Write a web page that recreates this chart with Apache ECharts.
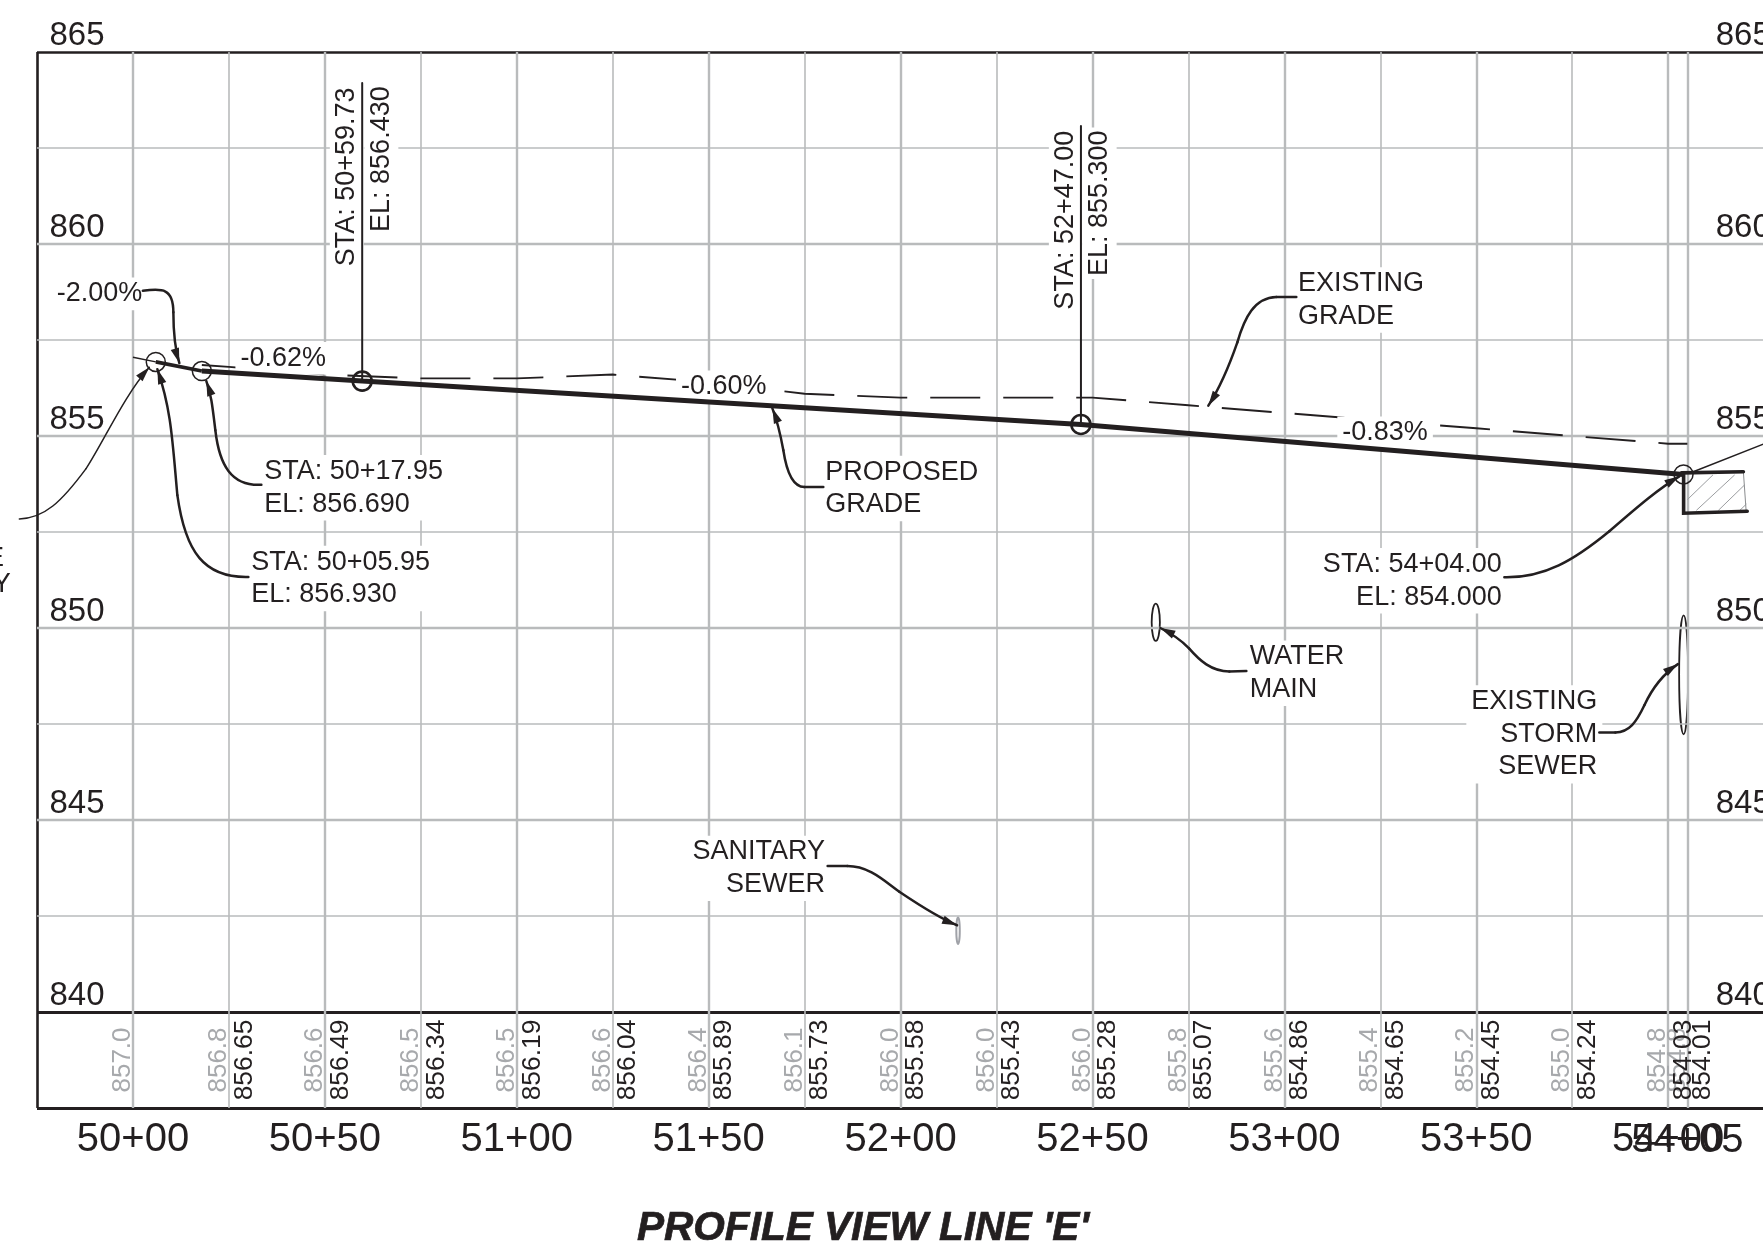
<!DOCTYPE html>
<html>
<head>
<meta charset="utf-8">
<style>html,body{margin:0;padding:0;background:#fff;overflow:hidden}#c{width:1763px;height:1245px}</style>
<script src="https://cdn.jsdelivr.net/npm/echarts@6/dist/echarts.min.js"></script>
</head>
<body>
<div id="c"></div>
<script>
// ---- data ----
const stationTicks = [5000,5050,5100,5150,5200,5250,5300,5350,5400];
const endStationTick = [5405];
const majorStations = [5000,5050,5100,5150,5200,5250,5300,5350,5400,5405];
const minorStations = [5025,5075,5125,5175,5225,5275,5325,5375,5425];
const majorElevations = [845,850,855,860];
const minorElevations = [842.5,847.5,852.5,857.5,862.5];
const borderElevations = [865,840,837.5];

const existingStations = [5000,5025,5050,5075,5100,5125,5150,5175,5200,5225,5250,5275,5300,5325,5350,5375,5400,5405];
const existingElevations = [857.0,856.8,856.6,856.5,856.5,856.6,856.4,856.1,856.0,856.0,856.0,855.8,855.6,855.4,855.2,855.0,854.8,854.8];
const existingStart = [5017.95,856.85];

const proposedRowStations = [5025,5050,5075,5100,5125,5150,5175,5200,5225,5250,5275,5300,5325,5350,5375,5400,5405];
const proposedRowElevations = ['856.65','856.49','856.34','856.19','856.04','855.89','855.73','855.58','855.43','855.28','855.07','854.86','854.65','854.45','854.24','854.03','854.01'];

const gradeStations = [5005.95,5017.95,5059.73,5247,5404];
const gradeElevations = [856.93,856.69,856.43,855.30,854.00];
const tieIn = [[5000,857.05],[5005.95,856.93]];

// labelled annotations: text, station, elevation
const notesLeft = [
  ['-2.00%',4980.15,858.74],
  ['STA: 50+17.95\nEL: 856.690',5034.18,853.69],
  ['STA: 50+05.95\nEL: 856.930',5030.8,851.33],
  ['-0.62%',5028,857.06],
  ['-0.60%',5142.8,856.32],
  ['-0.83%',5315.1,855.12],
  ['EXISTING\nGRADE',5303.56,858.58],
  ['PROPOSED\nGRADE',5180.4,853.67],
  ['WATER\nMAIN',5290.98,848.86]
];
const notesRight = [
  ['STA: 54+04.00\nEL: 854.000',5356.25,851.27],
  ['EXISTING\nSTORM\nSEWER',5381.16,847.27],
  ['SANITARY\nSEWER',5179.9,843.78],
  ['E',4966,851.85],
  ['Y',4967.8,851.17]
];
const notesVertical = [
  ['STA: 50+59.73',5055.2,861.75],
  ['EL: 856.430',5064.2,862.21],
  ['STA: 52+47.00',5242.55,860.62],
  ['EL: 855.300',5251.35,861.06]
];

// leader curves: start point then (control, control, end) triples, in station / elevation
const leaderMinusTwo = [[5002.58,858.78],[5007.66,858.85],[5010.53,858.85],[5010.53,858.22],[5010.53,857.62],[5011.05,857.23],[5012.09,856.90]];
const leaderSta1795 = [[5033.46,853.73],[5025.64,853.69],[5022.51,854.24],[5021.47,855.15],[5020.69,855.80],[5020.43,856.06],[5019.12,856.43]];
const leaderSta0595 = [[5030.07,851.33],[5018.60,851.30],[5013.65,851.97],[5011.57,853.46],[5010.27,854.89],[5010.01,855.67],[5006.36,856.74]];
const leaderLeftNote = [[4970.40,852.84],[4976.92,852.86],[4981.34,853.28],[4987.78,854.15],[4992.57,854.89],[4997.76,856.06],[5004.27,856.79]];
const leaderProposed = [[5179.88,853.67],[5179.88,853.67],[5174.93,853.67],[5174.93,853.67],[5171.80,853.68],[5170.24,854.11],[5169.46,854.63],[5168.42,855.20],[5167.64,855.46],[5166.60,855.72]];
const leaderExisting = [[5303.12,858.62],[5303.12,858.62],[5297.91,858.62],[5297.91,858.62],[5292.18,858.61],[5289.57,858.07],[5287.75,857.44],[5285.67,856.84],[5283.58,856.32],[5280.19,855.79]];
const leaderSta5404 = [[5357.32,851.32],[5367.74,851.30],[5375.56,851.77],[5384.67,852.52],[5392.49,853.20],[5397.70,853.64],[5402.91,853.95]];
const leaderRightNote = [[5425.06,854.80],[5425.06,854.80],[5406.54,854.07],[5406.54,854.07]];
const leaderWater = [[5290.10,848.88],[5290.10,848.88],[5285.67,848.87],[5285.67,848.87],[5280.98,848.87],[5277.85,849.16],[5275.17,849.47],[5272.64,849.73],[5270.56,849.86],[5267.69,850.00]];
const leaderStorm = [[5382.07,847.28],[5382.07,847.28],[5386.24,847.28],[5386.24,847.28],[5389.89,847.29],[5391.71,847.55],[5393.80,847.99],[5395.62,848.38],[5398.23,848.77],[5402.53,849.06]];
const leaderSanitary = [[5181.00,843.80],[5181.00,843.80],[5186.13,843.80],[5186.13,843.80],[5191.87,843.80],[5195.78,843.41],[5199.68,843.13],[5204.89,842.78],[5210.10,842.44],[5214.72,842.26]];

// pipes: centre station, centre elevation, half width (ft), half height (ft)
const waterMain = [5266.5,850.15,1.07,0.487];
const stormSewer = [5404.03,848.78,1.17,1.55];
const sanitarySewer = [5214.98,842.12,0.45,0.35];

// straight linework
const stemA = [[5059.73,864.19],[5059.73,856.43]];
const stemB = [[5247,863.07],[5247,855.30]];
const curbTop = [[5403.5,854.04],[5419.6,854.07]];
const curbFace = [[5404.03,854.0],[5404.03,852.99],[5420.6,853.04]];
const curbBack = [[5419.6,854.07],[5420.3,853.07]];
const hatchA = [[5405.08,853.35],[5411.6,853.98]];
const hatchB = [[5407.42,853.07],[5417.25,853.98]];
const hatchC = [[5413.15,853.07],[5419.85,853.72]];
const hatchD = [[5418.75,853.07],[5420.3,853.22]];

// ---- styles ----
const INK = '#231f20', GRID = '#b9bbbc', GREY = '#a7a9ac', FONT = '"Liberation Sans", Arial, sans-serif';
const NOTE = 27;
const STATION_LABEL_Y = 836.65;

const fmtStation = v => Math.floor(v / 100) + '+' + String(v % 100).padStart(2, '0');

function gridLines(stations, elevs, width, color, z) {
  return {
    type: 'line', data: [], silent: true, z, symbol: 'none',
    markLine: {
      silent: true, symbol: 'none', animation: false, z,
      label: { show: false },
      lineStyle: { color, width, type: 'solid' },
      emphasis: { disabled: true },
      data: stations.map(x => ({ xAxis: x })).concat(elevs.map(y => ({ yAxis: y })))
    }
  };
}

function leaderSeries(items) {
  return {
    type: 'custom', z: 5, clip: false, silent: true,
    data: items.map((_, i) => [i]),
    encode: { x: 0 },
    renderItem(params, api) {
      const it = items[params.dataIndex];
      const pts = it.path.map(p => api.coord(p));
      const children = [];
      for (let i = 0; i + 3 < pts.length; i += 3) {
        children.push({
          type: 'bezierCurve',
          shape: { x1: pts[i][0], y1: pts[i][1], cpx1: pts[i + 1][0], cpy1: pts[i + 1][1], cpx2: pts[i + 2][0], cpy2: pts[i + 2][1], x2: pts[i + 3][0], y2: pts[i + 3][1] },
          style: { stroke: INK, lineWidth: it.width, fill: null, lineCap: 'round' }
        });
      }
      const tip = pts[pts.length - 1], from = pts[pts.length - 2];
      let dx = tip[0] - from[0], dy = tip[1] - from[1];
      const n = Math.hypot(dx, dy) || 1; dx /= n; dy /= n;
      const L = 15, W = 4.3;
      children.push({
        type: 'polygon',
        shape: { points: [tip, [tip[0] - dx * L - dy * W, tip[1] - dy * L + dx * W], [tip[0] - dx * L + dy * W, tip[1] - dy * L - dx * W]] },
        style: { fill: INK }
      });
      return { type: 'group', children };
    }
  };
}

function polySeries(items, z) {
  return {
    type: 'custom', z, clip: false, silent: true,
    data: items.map((_, i) => [i]),
    encode: { x: 0 },
    renderItem(params, api) {
      const it = items[params.dataIndex];
      return { type: 'polyline', shape: { points: it.pts.map(p => api.coord(p)) },
        style: { stroke: it.color || INK, lineWidth: it.width, fill: null, lineCap: 'round', lineJoin: 'miter' } };
    }
  };
}

function pipeSeries(items, z) {
  return {
    type: 'custom', z, clip: false, silent: true,
    data: items.map((_, i) => [i]),
    encode: { x: 0 },
    renderItem(params, api) {
      const it = items[params.dataIndex];
      const c = api.coord([it.p[0], it.p[1]]), s = api.size([it.p[2], it.p[3]]);
      return { type: 'ellipse', shape: { cx: c[0], cy: c[1], rx: s[0], ry: s[1] },
        style: { stroke: it.color, lineWidth: it.width, fill: null } };
    }
  };
}

function textSeries(notes, extra, z) {
  return {
    type: 'scatter', z: z === undefined ? 4 : z, clip: false, silent: true,
    symbolSize: 1, itemStyle: { color: 'transparent', opacity: 1 },
    data: notes.map(n => ({ value: [n[1], n[2]], t: n[0] })),
    label: Object.assign({
      show: true, position: 'inside', formatter: p => p.data.t, opacity: 1,
      fontFamily: FONT, fontSize: NOTE, lineHeight: 32.7, color: INK, backgroundColor: '#fff'
    }, extra)
  };
}

const tableY = 838.75;
const option = {
  animation: false,
  backgroundColor: '#fff',
  title: {
    text: "PROFILE VIEW LINE 'E'", left: 858, top: 1203, textAlign: 'center',
    textStyle: { fontFamily: FONT, fontWeight: 'bold', fontStyle: 'italic', fontSize: 40.6, color: INK, textBorderColor: INK, textBorderWidth: 0.7 }
  },
  grid: { left: 37, top: 52, right: -20.3, height: 1056, containLabel: false, outerBoundsMode: 'none' },
  xAxis: {
    type: 'value', min: 4975, max: 5430, interval: 25,
    axisLine: { show: false }, axisTick: { show: false }, splitLine: { show: false },
    axisLabel: { customValues: stationTicks, formatter: fmtStation, fontFamily: FONT, fontSize: 40, color: INK, margin: 12, hideOverlap: false }
  },
  yAxis: [0, 1].map(i => ({
    type: 'value', min: 837.5, max: 865, interval: 2.5, position: i ? 'right' : 'left',
    axisLine: { show: false }, axisTick: { show: false }, splitLine: { show: false },
    axisLabel: {
      inside: true, margin: 12.5, showMaxLabel: true, showMinLabel: true, hideOverlap: false,
      formatter: v => (v % 5 === 0 ? String(v) : ''),
      fontFamily: FONT, fontSize: 33, color: INK, verticalAlign: 'bottom', padding: [0, 0, 0, 0]
    }
  })),
  series: [
    // borders
    gridLines([4975], [865], 2.6, INK, 0),
    gridLines([], [840, 837.5], 3.2, INK, 0),
    pipeSeries([{ p: stormSewer, color: INK, width: 1.8 }, { p: waterMain, color: INK, width: 1.8 }, { p: sanitarySewer, color: '#a0a2a8', width: 2 }], 1),
    gridLines(majorStations, majorElevations, 2.4, GRID, 2),
    gridLines(minorStations, minorElevations, 1.6, GRID, 2),
    // hatch + curb
    polySeries([hatchA, hatchB, hatchC, hatchD].map(p => ({ pts: p, width: 1, color: '#9b9da0' })), 3),
    polySeries([{ pts: curbBack, width: 1, color: '#8a8c8e' }], 3),
    // existing grade
    {
      type: 'line', z: 3, clip: false, silent: true, symbol: 'none',
      data: [existingStart].concat(existingStations.slice(1).map((s, i) => [s, existingElevations[i + 1]])),
      lineStyle: { color: INK, width: 1.9, type: [50, 23], cap: 'butt' }
    },
    // table values
    {
      type: 'scatter', z: 4, silent: true, symbolSize: 1, clip: false, itemStyle: { color: 'transparent', opacity: 1 },
      data: existingStations.map((s, i) => ({ value: [s, tableY], t: existingElevations[i].toFixed(1) })),
      label: { show: true, position: 'inside', rotate: 90, offset: [0, -10], opacity: 1, formatter: p => p.data.t, fontFamily: FONT, fontSize: 26, color: GREY }
    },
    {
      type: 'scatter', z: 4, silent: true, symbolSize: 1, clip: false, itemStyle: { color: 'transparent', opacity: 1 },
      data: proposedRowStations.map((s, i) => ({ value: [s, tableY], t: proposedRowElevations[i] })),
      label: { show: true, position: 'inside', rotate: 90, offset: [0, 15.5], opacity: 1, formatter: p => p.data.t, fontFamily: FONT, fontSize: 26.4, color: INK }
    },
    // last station label, which sits on top of 54+00
    {
      type: 'scatter', z: 4, silent: true, symbolSize: 1, clip: false, itemStyle: { color: 'transparent', opacity: 1 },
      data: endStationTick.map(s => ({ value: [s, STATION_LABEL_Y], t: fmtStation(s) })),
      label: { show: true, position: 'inside', opacity: 1, formatter: p => p.data.t, fontFamily: FONT, fontSize: 40, color: INK }
    },
    // annotations
    textSeries(notesLeft, { align: 'left', padding: [0, 5, 0, 5], offset: [-5, 1.5] }),
    textSeries(notesRight, { align: 'right', padding: [0, 5, 0, 5], offset: [6.5, 1.5] }),
    textSeries(notesVertical, { rotate: 90, padding: [2, 3, 2, 3], lineHeight: 30, offset: [0, 2] }),
    // proposed grade
    { type: 'line', z: 5, clip: false, silent: true, symbol: 'none', data: tieIn, lineStyle: { color: INK, width: 1.5 } },
    { type: 'line', z: 5, clip: false, silent: true, symbol: 'none',
      data: gradeStations.slice(0, 2).map((s, i) => [s, gradeElevations[i]]), lineStyle: { color: INK, width: 3.6 } },
    { type: 'line', z: 5, clip: false, silent: true, symbol: 'none',
      data: gradeStations.slice(1).map((s, i) => [s, gradeElevations[i + 1]]), lineStyle: { color: INK, width: 5 } },
    polySeries([
      { pts: stemA, width: 2 }, { pts: stemB, width: 2 },
      { pts: curbTop, width: 3.6 }, { pts: curbFace, width: 3.6 }
    ], 5),
    leaderSeries([
      { path: leaderMinusTwo, width: 2.5 }, { path: leaderSta1795, width: 2.5 }, { path: leaderSta0595, width: 2.5 },
      { path: leaderLeftNote, width: 1.5 }, { path: leaderProposed, width: 2.5 }, { path: leaderExisting, width: 2.5 },
      { path: leaderSta5404, width: 2.5 }, { path: leaderRightNote, width: 1.5 }, { path: leaderWater, width: 2.5 },
      { path: leaderStorm, width: 2.5 }, { path: leaderSanitary, width: 2.5 }
    ]),
    // vertex circles
    {
      type: 'scatter', z: 6, silent: true, symbol: 'circle', symbolSize: 19, clip: false,
      data: [0, 1, 4].map(i => [gradeStations[i], gradeElevations[i]]),
      itemStyle: { color: 'rgba(0,0,0,0)', borderColor: INK, borderWidth: 1.5, opacity: 1 }
    },
    {
      type: 'scatter', z: 6, silent: true, symbol: 'circle', symbolSize: 19, clip: false,
      data: [2, 3].map(i => [gradeStations[i], gradeElevations[i]]),
      itemStyle: { color: 'rgba(0,0,0,0)', borderColor: INK, borderWidth: 2.6, opacity: 1 }
    }
  ]
};
echarts.init(document.getElementById('c')).setOption(option);
</script>
</body>
</html>
